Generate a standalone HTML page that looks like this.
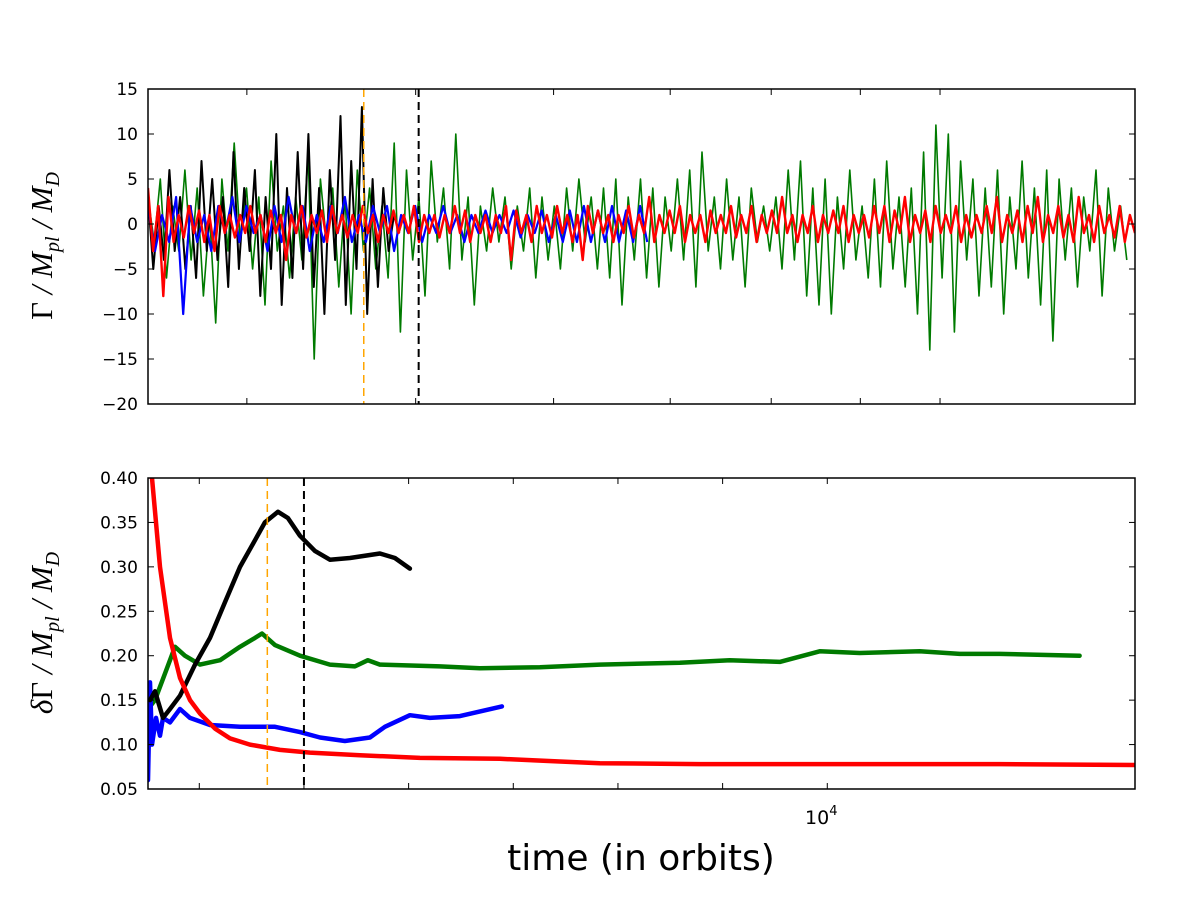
<!DOCTYPE html>
<html><head><meta charset="utf-8"><style>
body{margin:0;background:#fff;}
svg{display:block;font-family:"DejaVu Sans","Liberation Sans",sans-serif;}
</style></head><body>
<svg id="fig" width="1200" height="897" viewBox="0 0 1200 897" xmlns="http://www.w3.org/2000/svg">
<rect width="1200" height="897" fill="#fff"/>
<g id="top"></g>
<g id="bot"></g>
<text transform="translate(52,246) rotate(-90)" text-anchor="middle" font-family="'Liberation Serif',serif" font-size="31" font-style="italic"><tspan font-style="normal">Γ</tspan> / M<tspan font-size="20" dy="7">pl</tspan><tspan dy="-7"> / M</tspan><tspan font-size="20" dy="7">D</tspan></text>
<text transform="translate(52,633) rotate(-90)" text-anchor="middle" font-family="'Liberation Serif',serif" font-size="31" font-style="italic">δ<tspan font-style="normal">Γ</tspan> / M<tspan font-size="20" dy="7">pl</tspan><tspan dy="-7"> / M</tspan><tspan font-size="20" dy="7">D</tspan></text>
<text x="641" y="870" text-anchor="middle" font-size="36">time (in orbits)</text>
</svg>
<script>
// ---------- data ----------
const tMin = 3510, tMax = 12940;
const markerOrange = 4650, markerBlack = 5000;
const topTicks = [15,10,5,0,-5,-10,-15,-20];
const botTicks = [0.40,0.35,0.30,0.25,0.20,0.15,0.10,0.05];
const topXTicks = [4000,5000,6000,7000,8000,9000,10000];
const botXTicks = [4000,5000,6000,7000,8000,9000,10000];
const xTickLabel = "10";
// top panel noisy torque series (evenly spaced in log time between start & end)
const greenRange = [3510, 12800];
const greenTorque = [3,-2,5,-6,2,-3,6,-4,4,-8,1,-11,5,-3,9,-2,4,-5,3,-9,7,-3,2,-6,3,-4,8,-15,5,-2,4,-7,3,-10,6,-3,4,-5,2,-6,9,-12,6,-4,3,-8,7,-2,4,-5,10,-4,3,-9,2,-3,4,-2,3,-5,2,-3,4,-6,3,-4,2,-5,4,-3,5,-2,3,-5,4,-6,5,-9,3,-4,5,-6,4,-7,3,-3,5,-4,6,-7,8,-3,3,-5,5,-4,3,-7,4,-2,2,-3,3,-5,6,-4,7,-8,4,-9,5,-10,3,-5,6,-4,2,-6,5,-7,7,-5,3,-7,4,-10,8,-14,11,-6,10,-12,7,-4,5,-8,4,-7,6,-10,3,-5,7,-6,4,-9,6,-13,5,-4,4,-7,3,-3,6,-8,4,-3,2,-4];
const redRange = [3510, 12940];
const redTorque = [4,-3,2,-8,3,-2,1,-1.5,2,-1,1.5,-2,1,-3,2,-1,1,-1.5,1,-1,2,-1,1,-2,1.5,-1,1,-4,1,-1,2,-1.5,1,-1,1.5,-2,2,-1,1,-1.5,1,-1,2,-1,1,-2,1,-1,1.5,-1,1,-1,2,-2,1,-1,1,-1.5,1,-1,2,-1,1.5,-2,1,-1,1,-2,1,-1,2,-4,1.5,-1,1,-2,2,-1,1,-1.5,2,-1,1,-2,1,-4,2,-1,1.5,-1,1,-2,1,-1,2,-1.5,1,-1,3,-2,1,-1,1.5,-1,2,-2,1,-1,1,-2,1.5,-1,1,-1,2,-1.5,1,-1,2,-2,1,-1,1.5,-1,3,-1,1,-2,1,-1,2,-2,1,-1,1.5,-1,2,-2,1,-1,1,-1.5,2,-1,2,-2,1.5,-1,3,-2,1,-1,1.5,-2,2,-1,1,-1,2,-2,1,-1.5,1,-1,2,-1,3,-2,1,-1,1.5,-2,2,-1,3,-2,1,-1,2,-1.5,1,-2,3,-1,1,-2,2,-1,1,-1.5,2,-2,1,-1];
const blueRange = [3510, 6790];
const blueTorque = [2,-3,1,-2,3,-10,2,-2,1,-3,2,-1,3,-2,2,-1,1,-3,2,-2,3,-1,2,-3,1,-2,2,-1,3,-2,1,-2,2,-1,2,-3,1,-1,2,-2,1,-1,2,-1,1,-2,1,-1,1.5,-1,1,-1,1.5,-1.5,1,-1,1.5,-2,1,-2,1.5,-2,2,-2,1.5,-2,2,-2,1.5,-2,2,-2];
const blackRange = [3510, 4893];
const blackTorque = [3,-5,2,-4,6,-3,3,-5,2,-6,7,-3,5,-4,3,-7,8,-5,4,-3,6,-8,3,-5,10,-9,4,-6,8,-5,10,-7,4,-10,6,-4,12,-9,7,-5,13,-10,5,-7,4,-3,1,-1];
// bottom panel smooth series
const redBotT = [3548,3625,3720,3816,3911,4007,4150,4293,4484,4771,5057,5535,6108,6873,7445,7827,8782,9737,10692,11647,12936];
const redBotV = [0.40,0.30,0.22,0.175,0.15,0.135,0.118,0.107,0.100,0.094,0.091,0.088,0.085,0.084,0.081,0.079,0.078,0.078,0.078,0.078,0.077];
const blackBotT = [3529,3577,3653,3720,3816,3959,4102,4245,4389,4532,4627,4752,4847,4962,5105,5248,5439,5726,5869,6012];
const blackBotV = [0.15,0.16,0.13,0.14,0.155,0.19,0.22,0.26,0.30,0.33,0.35,0.362,0.355,0.335,0.318,0.308,0.31,0.315,0.31,0.298];
const greenBotT = [3510,3577,3672,3768,3863,4007,4198,4389,4532,4599,4723,4962,5248,5487,5611,5726,6299,6681,7254,7827,8591,9068,9546,9928,10310,10883,11265,11647,12411];
const greenBotV = [0.14,0.15,0.18,0.21,0.20,0.19,0.195,0.21,0.22,0.225,0.212,0.20,0.19,0.188,0.195,0.19,0.188,0.186,0.187,0.19,0.192,0.195,0.193,0.205,0.203,0.205,0.202,0.202,0.20];
const blueBotT = [3510,3529,3548,3586,3625,3653,3720,3816,3911,4102,4389,4723,4962,5153,5391,5630,5773,6012,6203,6490,6891];
const blueBotV = [0.06,0.17,0.10,0.13,0.11,0.13,0.125,0.14,0.13,0.122,0.12,0.12,0.114,0.108,0.104,0.108,0.12,0.133,0.13,0.132,0.143];

// ---------- layout ----------
const L=148,R=1135, T1=89,B1=404, T2=478,B2=789;
const ns="http://www.w3.org/2000/svg";
const xLog = t => L + (Math.log10(t)-Math.log10(tMin))/(Math.log10(tMax)-Math.log10(tMin))*(R-L);
const xLin = t => L + (t-tMin)/(tMax-tMin)*(R-L);
const yTop = v => T1 + (15-v)/35*(B1-T1);
const yBot = v => T2 + (0.40-v)/0.35*(B2-T2);
function mk(tag, attrs, parent){const e=document.createElementNS(ns,tag);for(const k in attrs)e.setAttribute(k,attrs[k]);parent.appendChild(e);return e;}
const gt=document.getElementById('top'), gb=document.getElementById('bot');

function clip(id,y0,y1){const c=mk('clipPath',{id:id},document.getElementById('fig'));mk('rect',{x:L,y:y0,width:R-L,height:y1-y0},c);}
clip('c1',T1,B1);clip('c2',T2,B2);

function noisy(vals, range, color, name, w){
  const l0=Math.log10(range[0]), l1=Math.log10(range[1]);
  const pts=vals.map((v,i)=>{const t=Math.pow(10,l0+(l1-l0)*i/(vals.length-1));return xLog(t).toFixed(1)+','+yTop(v).toFixed(1);});
  const p=mk('polyline',{points:pts.join(' '),fill:'none',stroke:color,'stroke-width':w,'stroke-linejoin':'round','clip-path':'url(#c1)'},gt);
  
  
}
noisy(greenTorque,greenRange,'#007a00','green-torque-line',1.6);
noisy(blackTorque,blackRange,'#000','black-torque-line',2);
noisy(blueTorque,blueRange,'#0000ff','blue-torque-line',2.2);
noisy(redTorque,redRange,'#ff0000','red-torque-line',2.4);

function smooth(ts, vs, color, name){
  const pts=ts.map((t,i)=>xLin(t).toFixed(1)+','+yBot(vs[i]).toFixed(1));
  const p=mk('polyline',{points:pts.join(' '),fill:'none',stroke:color,'stroke-width':4.5,'stroke-linejoin':'round','stroke-linecap':'round','clip-path':'url(#c2)'},gb);
  
  
}
smooth(greenBotT,greenBotV,'#007a00','green-dispersion-line');
smooth(blueBotT,blueBotV,'#0000ff','blue-dispersion-line');
smooth(blackBotT,blackBotV,'#000','black-dispersion-line');
smooth(redBotT,redBotV,'#ff0000','red-dispersion-line');

function vline(g,x,y0,y1,color,name){
  const l=mk('line',{x1:x,x2:x,y1:y0,y2:y1,stroke:color,'stroke-width':color==='#000'?2:1.5,'stroke-dasharray':'8,5'},g);
  
  
}
vline(gt,xLog(markerOrange)+3,T1,B1,'#ffa500','orange-marker-top');
vline(gt,xLog(markerBlack)+3,T1,B1,'#000','black-marker-top');
vline(gb,xLin(markerOrange),T2,B2,'#ffa500','orange-marker-bottom');
vline(gb,xLin(markerBlack),T2,B2,'#000','black-marker-bottom');

function frame(g,y0,y1,yt,yf,yfmt,xt,xf,name){
  const r=mk('rect',{x:L,y:y0,width:R-L,height:y1-y0,fill:'none',stroke:'#000','stroke-width':1.5},g);
  
  
  yt.forEach(v=>{const y=yf(v);
    mk('line',{x1:L,x2:L+6,y1:y,y2:y,stroke:'#000'},g);
    mk('line',{x1:R-6,x2:R,y1:y,y2:y,stroke:'#000'},g);
    const t=mk('text',{x:L-10,y:y+6,'text-anchor':'end','font-size':17},g);
    
    
    t.textContent=yfmt(v);});
  xt.forEach(v=>{const x=xf(v);
    mk('line',{x1:x,x2:x,y1:y0,y2:y0+6,stroke:'#000'},g);
    mk('line',{x1:x,x2:x,y1:y1-6,y2:y1,stroke:'#000'},g);});
}
frame(gt,T1,B1,topTicks,yTop,v=>v<0?'\u2212'+Math.abs(v):String(v),topXTicks,xLog,'top-axes-frame');
frame(gb,T2,B2,botTicks,yBot,v=>v.toFixed(2),botXTicks,xLin,'bottom-axes-frame');

const lab=mk('text',{x:xLin(10000)-6,y:824,'text-anchor':'middle','font-size':19},gb);


lab.textContent=xTickLabel;
const sup=mk('tspan',{'font-size':13,dy:-9},lab);sup.textContent='4';
</script>
</body></html>
